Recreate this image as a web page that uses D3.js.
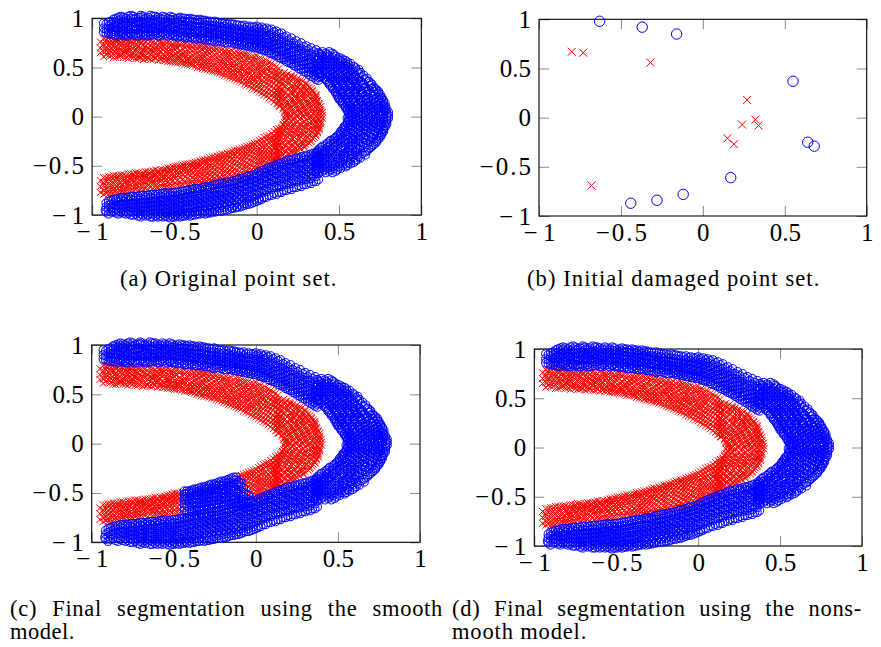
<!DOCTYPE html>
<html>
<head>
<meta charset="utf-8">
<script src="https://cdn.jsdelivr.net/npm/d3@7"></script>
<style>
  html, body { margin: 0; padding: 0; background: #fff; }
  svg { display: block; }
  svg text { font-family: "Liberation Serif", serif; }
</style>
</head>
<body>
<svg id="fig" width="881" height="647"></svg>
<script>
// Tick values shared by both axes of every panel
const tickValues = [-1, -0.5, 0, 0.5, 1];

// Sample coordinates, in hundredths.
// Column blocks are [x, y1, y2, ...]; row blocks are [y, x1, x2, ...].
// Each arm is sampled in two interleaved passes (A and B).

// Inner curve (class 1)
const innerUpperA = [
  [-95,65,70,76],[-93,61,66,71,74,79],[-90,62,65,69,73,77,80],[-87,60,64,68,72,75,79],
  [-84,61,63,67,70,74,78],[-81,60,64,66,71,76,79],[-78,59,62,67,70,73,77],[-75,60,63,65,69,74,78],
  [-72,59,61,66,71,72,76],[-69,58,62,64,68,73,77],[-66,59,60,65,70,74,78],[-63,58,61,66,67,71,76],
  [-60,57,62,64,69,73,77],[-57,57,60,63,68,72,75],[-54,56,59,64,66,70,76],[-51,56,58,62,67,71,74],
  [-48,55,59,61,65,70,75],[-45,54,57,62,64,69,74],[-42,53,56,59,64,68,73],[-39,52,54,58,62,67,71,74],
  [-36,50,54,57,61,65,69,73],[-33,49,52,56,60,63,68,72],[-30,48,51,55,58,63,66,71],[-27,46,50,53,57,61,66,70],
  [-24,45,48,52,56,60,64,69],[-21,43,47,50,55,58,63,68],[-18,41,45,49,52,57,61,65,68],[-15,39,43,47,51,55,59,63,67],
  [-12,37,41,45,49,53,58,62,66],[-9,35,39,43,48,51,56,60,64],[-6,32,36,41,45,49,53,58,63],[-3,29,34,38,42,47,51,56,61],
  [0,27,31,35,40,44,49,54,58,62],[3,24,28,33,37,42,46,51,55,59],[6,21,25,29,34,38,43,48,52,57],
  [9,17,22,26,31,36,40,45,50,54],[12,13,18,23,27,32,37,42,46,51]
];
const innerUpperB = [
  [-91.5,63,67,70,75,78],[-88.5,62,66,69,74,77,80],[-85.5,60,65,68,71,76,78],[-82.5,62,63,68,72,75,79],
  [-79.5,60,65,67,71,74,78],[-76.5,61,64,68,72,75,77],[-73.5,59,63,67,69,73,78],[-70.5,60,64,66,70,75,77],
  [-67.5,59,62,67,69,72,76],[-64.5,58,63,66,68,72,77],[-61.5,59,60,64,68,71,75],[-58.5,58,61,65,67,70,74,76],
  [-55.5,57,60,62,66,70,73,76],[-52.5,56,60,63,65,69,72,75],[-49.5,55,57,61,64,68,71,75],[-46.5,55,58,60,63,67,72,74],
  [-43.5,53,56,60,63,66,70,74],[-40.5,53,55,58,61,65,69,73],[-37.5,51,55,57,60,64,68,72],[-34.5,50,52,56,59,62,67,71,73],
  [-31.5,48,51,55,57,61,65,70,72],[-28.5,47,50,53,56,60,64,68,71],[-25.5,46,48,52,55,59,63,67,70],[-22.5,44,47,50,54,57,62,66,69],
  [-19.5,42,45,49,53,56,60,64,67],[-16.5,40,44,47,50,54,58,62,66],[-13.5,38,42,45,48,52,56,61,65],[-10.5,36,39,44,47,50,55,59,63,66],
  [-7.5,33,37,41,46,49,53,57,62,64],[-4.5,31,35,38,43,46,50,55,59,63],[-1.5,28,32,36,39,44,48,52,57,61],
  [1.5,25,29,33,38,41,45,50,54,59],[4.5,22,26,31,35,39,44,47,52,57],[7.5,19,23,28,32,37,41,46,50,55],
  [10.5,15,20,24,29,34,38,43,47,52],[13.5,11,16,21,26,30,35,40,44,49]
];
const innerTipA = [
  [45,14,17],[42,13,18,21],[39,15,19,22,25],[36,14,18,21,25,28],[33,15,19,23,26,30],
  [30,14,17,22,25,29,32],[27,15,19,23,27,30,34],[24,14,17,21,25,28,32,35],[21,13,16,20,24,28,31,36],
  [18,14,17,21,25,29,33,36],[15,14,18,22,26,30,34,37],[12,15,19,23,27,31,34,38],[9,16,20,24,28,32,36,38],
  [6,17,21,25,29,33,36,39],[3,18,22,26,30,34,37,39],[0,18,21,25,29,33,36,39],[-3,18,22,26,30,34,38],
  [-6,17,20,24,28,32,36,39],[-9,16,19,23,27,31,35,38],[-12,15,18,22,26,30,34,38],[-15,13,17,21,25,29,33,37],
  [-18,12,16,20,24,28,32,36],[-21,12,15,19,23,27,31,35],[-24,13,17,21,25,29,33],[-27,12,16,20,24,28,32],
  [-30,13,17,21,25,29],[-33,12,16,20,24,27],[-36,13,17,21,24],[-39,12,16,20],[-42,13,17],[-45,12]
];
const innerTipB = [
  [43.5,12,16,19],[40.5,14,17,21,23],[37.5,12,16,20,24,27],[34.5,13,16,20,24,27,30],[31.5,12,17,21,24,28,31],
  [28.5,13,16,20,24,27,31,33],[25.5,12,16,21,23,27,30,34],[22.5,15,19,22,26,30,33,36],[19.5,12,15,18,23,26,30,34,36],
  [16.5,13,16,20,23,27,31,35,37],[13.5,13,17,20,24,28,32,36,38],[10.5,14,17,21,25,29,33,36,39],[7.5,16,19,22,26,30,34,37,39],
  [4.5,17,19,23,27,31,35,38,40],[1.5,18,20,24,28,31,35,38,40],[-1.5,17,20,23,27,32,35,37,40],[-4.5,18,21,25,29,33,36,39],
  [-7.5,16,18,22,26,30,33,37,39],[-10.5,15,17,21,25,29,33,36,38],[-13.5,14,16,20,24,28,32,35,38],[-16.5,13,15,19,23,27,30,34,37],
  [-19.5,11,14,18,22,26,30,34,36],[-22.5,12,14,18,22,26,30,34],[-25.5,11,15,19,23,27,30,33],[-28.5,12,14,18,22,26,30],
  [-31.5,11,15,19,23,26,29],[-34.5,12,14,18,22,25],[-37.5,11,15,19,22],[-40.5,12,14,18],[-43.5,11,15]
];
const innerLowerA = [
  [-95,-65,-71,-77],[-93,-62,-67,-70,-75,-79],[-90,-61,-64,-68,-72,-76,-79],[-87,-60,-63,-67,-71,-74,-78],
  [-84,-60,-62,-66,-70,-73,-77],[-81,-59,-63,-65,-69,-74,-77],[-78,-58,-61,-65,-68,-71,-76],[-75,-58,-60,-64,-67,-72,-75],
  [-72,-57,-60,-63,-67,-70,-75],[-69,-57,-59,-62,-66,-71,-74],[-66,-56,-59,-63,-65,-69,-74],[-63,-55,-58,-61,-65,-68,-73],
  [-60,-55,-57,-61,-64,-67,-72],[-57,-54,-56,-60,-63,-68,-72],[-54,-52,-56,-58,-62,-66,-71],[-51,-51,-54,-58,-61,-65,-70],
  [-48,-50,-53,-57,-60,-65,-70],[-45,-49,-52,-55,-59,-64,-69],[-42,-48,-51,-55,-58,-63,-69],[-39,-47,-50,-53,-57,-62,-66,-69],
  [-36,-46,-49,-52,-56,-60,-64,-68],[-33,-44,-47,-51,-55,-59,-63,-67],[-30,-43,-46,-50,-54,-58,-62,-66],[-27,-41,-45,-48,-52,-57,-61,-66],
  [-24,-40,-43,-47,-51,-55,-60,-65],[-21,-38,-42,-46,-50,-54,-59,-64],[-18,-37,-40,-44,-48,-53,-57,-62],[-15,-35,-39,-43,-47,-52,-56,-61],
  [-12,-34,-37,-41,-46,-50,-55,-60],[-9,-32,-36,-40,-44,-49,-53,-58,-61],[-6,-30,-34,-38,-42,-47,-51,-56,-59],[-3,-28,-32,-36,-41,-45,-50,-54,-58],
  [0,-26,-30,-34,-39,-43,-48,-52,-56],[3,-23,-27,-31,-36,-40,-45,-49,-54],[6,-20,-24,-29,-33,-38,-42,-47,-51],
  [9,-17,-21,-26,-30,-35,-39,-44,-49],[12,-13,-17,-22,-27,-31,-36,-41,-46]
];
const innerLowerB = [
  [-91.5,-62,-66,-70,-74,-78],[-88.5,-61,-65,-69,-73,-77,-80],[-85.5,-60,-63,-66,-71,-75,-78],[-82.5,-59,-62,-67,-70,-73,-77],
  [-79.5,-60,-63,-66,-69,-73,-76],[-76.5,-58,-62,-64,-69,-72,-76],[-73.5,-57,-61,-64,-68,-71,-74],[-70.5,-58,-60,-63,-66,-70,-74],
  [-67.5,-56,-60,-62,-66,-69,-73],[-64.5,-56,-58,-62,-64,-68,-72],[-61.5,-54,-58,-60,-64,-67,-71,-73],[-58.5,-54,-57,-59,-63,-66,-70,-72],
  [-55.5,-53,-55,-59,-62,-65,-69,-72],[-52.5,-52,-54,-57,-61,-64,-68,-71],[-49.5,-50,-53,-56,-60,-63,-67,-70],[-46.5,-50,-52,-55,-58,-62,-66,-70],
  [-43.5,-48,-51,-54,-57,-61,-65,-68],[-40.5,-48,-50,-53,-56,-60,-64,-68],[-37.5,-46,-48,-52,-55,-59,-63,-67],[-34.5,-45,-48,-50,-54,-57,-61,-65,-68],
  [-31.5,-44,-46,-49,-53,-56,-60,-64,-67],[-28.5,-42,-45,-48,-51,-55,-59,-63,-66],[-25.5,-41,-43,-46,-50,-54,-58,-62,-65],[-22.5,-39,-42,-45,-49,-53,-57,-61,-64],
  [-19.5,-38,-40,-43,-47,-51,-55,-59,-63],[-16.5,-36,-39,-42,-46,-50,-54,-58,-62],[-13.5,-34,-37,-40,-44,-48,-53,-57,-61],[-10.5,-33,-35,-39,-43,-47,-51,-56,-60],
  [-7.5,-31,-34,-37,-41,-45,-50,-54,-59],[-4.5,-29,-32,-35,-39,-44,-48,-52,-57],[-1.5,-27,-30,-33,-37,-42,-46,-51,-56],
  [1.5,-24,-28,-32,-35,-39,-44,-48,-53],[4.5,-21,-25,-30,-33,-37,-41,-45,-50],[7.5,-19,-22,-26,-31,-35,-39,-43,-48],
  [10.5,-15,-19,-23,-28,-32,-37,-41,-45],[13.5,-12,-16,-20,-25,-30,-34,-38,-43]
];

// Outer curve (class 2)
const outerUpperA = [
  [-93,86,90,95],[-90,84,88,92,96],[-87,83,87,91,95,99],[-84,82,85,90,94,98,101],
  [-81,83,86,89,93,97,101],[-78,82,86,90,93,98,102],[-75,83,87,91,95,99,102],[-72,82,85,89,94,97,101],
  [-69,83,86,91,95,99,102],[-66,82,86,89,93,97,101],[-63,83,87,90,95,98,102],[-60,82,85,89,93,97,101],
  [-57,83,86,91,94,99,102],[-54,82,86,89,93,96,100],[-51,82,85,90,94,98,101],[-48,81,85,88,92,96,100],
  [-45,81,84,89,93,97,100],[-42,80,84,87,91,95,99],[-39,80,83,87,92,96,99],[-36,79,83,86,90,94,98],
  [-33,79,82,86,89,93,98],[-30,78,81,85,89,92,97],[-27,77,81,84,88,92,96],[-24,77,80,84,87,91,96],
  [-21,76,79,83,87,90,95],[-18,75,79,82,86,90,94],[-15,75,78,81,85,89,94],[-12,74,77,81,84,88,93],
  [-9,73,76,80,84,87,92],[-6,72,75,79,83,87,91],[-3,71,74,78,82,86,91],[0,70,73,77,81,85,89,92],
  [3,68,72,76,80,83,87,91],[6,67,70,74,78,82,86,90],[9,64,68,72,76,80,84,89],[12,62,66,70,74,78,82,87],
  [15,59,63,67,71,75,80,85],[18,56,60,64,68,72,77,82],[21,54,58,62,66,70,75,80],[24,51,55,59,63,67,72,77],
  [27,48,52,56,60,64,69,75],[30,45,49,53,57,62,67,72],[33,41,45,50,54,59,64,70],[36,38,42,47,52,57,62,68]
];
const outerUpperB = [
  [-91.5,85,89,94],[-88.5,84,86,90,94,97],[-85.5,83,86,88,92,96,100],[-82.5,84,87,91,95,99,102],
  [-79.5,82,84,88,92,95,100],[-76.5,84,85,89,92,96,100,103],[-73.5,82,84,88,92,96,100],[-70.5,84,88,90,93,97,101,103],
  [-67.5,82,84,88,91,95,100],[-64.5,83,85,88,92,96,99,103],[-61.5,84,87,91,94,99,102],[-58.5,82,84,88,92,96,100],
  [-55.5,84,88,92,95,97,101],[-52.5,83,84,88,91,95,99,102],[-49.5,82,83,87,91,95,99],[-46.5,82,86,90,94,98,101],
  [-43.5,80,82,86,89,93,97,100],[-40.5,81,85,89,93,97,100],[-37.5,79,81,85,88,91,95,99],[-34.5,80,84,87,91,95,99],
  [-31.5,78,80,84,87,91,94,98],[-28.5,78,82,86,90,93,97],[-25.5,76,79,83,86,89,93,97],[-22.5,77,81,85,88,92,95],
  [-19.5,75,78,81,84,88,92,95],[-16.5,76,80,83,87,91,95],[-13.5,74,76,79,83,86,90,94],[-10.5,73,75,78,82,86,89,93],
  [-7.5,72,74,77,81,85,89,93],[-4.5,71,73,76,80,84,88,92],[-1.5,70,72,75,79,83,87,91],[1.5,69,71,74,78,82,86,90],
  [4.5,67,69,72,76,80,85,89],[7.5,65,67,71,75,79,83,88],[10.5,63,65,69,73,77,81,86],[13.5,60,62,66,70,74,79,84],
  [16.5,58,60,63,67,71,76,81],[19.5,55,57,61,65,69,73,78],[22.5,52,54,58,62,66,70,75],[25.5,49,52,55,59,63,67,73],
  [28.5,46,49,53,56,61,65,71],[31.5,43,46,50,54,58,63,68],[34.5,40,43,47,51,55,60,66],[37.5,37,40,44,49,54,59,65]
];
const outerTipA = [
  [66,40,44],[63,39,43,47],[60,38,42,46,50],[57,39,43,47,51,54],[54,38,42,46,50,54,57],
  [51,39,43,47,51,55,59],[48,38,42,46,50,54,58,62],[45,39,43,47,51,55,59,63],[42,40,44,48,52,56,60,65],
  [39,41,45,49,53,57,62,67],[36,43,47,51,55,59,63,68],[33,44,48,52,56,60,65,70],[30,46,50,54,58,62,66,71],
  [27,47,51,55,59,63,68,73],[24,48,52,56,60,64,69,74],[21,49,53,57,61,66,70,75],[18,50,54,58,62,67,71,76],
  [15,52,56,60,64,68,72,77],[12,53,57,61,65,69,73,77],[9,54,58,62,66,70,74,78],[6,55,59,63,67,71,75,78],
  [3,56,60,64,68,72,76,79],[0,56,60,64,68,72,75,79],[-3,56,60,63,67,71,75,79],[-6,55,59,63,67,71,75,78],
  [-9,54,58,62,66,70,74,78],[-12,53,57,61,65,69,73,77],[-15,51,55,59,63,67,72,77],[-18,50,54,58,62,66,71,76],
  [-21,48,52,56,60,65,70,75],[-24,45,49,53,58,62,67,73],[-27,43,47,51,56,60,65,72],[-30,40,44,48,53,58,63,70],
  [-33,38,42,46,51,56,61,68],[-36,37,41,45,50,55,60,66],[-39,38,42,46,51,56,61,66],[-42,37,41,45,50,55,59,63],
  [-45,38,42,46,51,55,60],[-48,37,41,46,50,54,57],[-51,38,42,46,50,54],[-54,37,41,45,49],[-57,38,42,46]
];
const outerTipB = [
  [64.5,38,42,46],[61.5,40,44,48],[58.5,37,41,45,49,52],[55.5,40,44,48,52,55],[52.5,37,41,45,49,53,56],
  [49.5,40,44,48,52,56,60],[46.5,37,41,45,49,53,57,61],[43.5,38,42,46,50,54,58,62],[40.5,39,43,47,51,55,59,64],
  [37.5,42,46,50,54,58,61,66],[34.5,44,48,52,56,60,64,69],[31.5,45,49,53,57,61,64,69],[28.5,46,49,53,57,61,65,70,72],
  [25.5,48,52,56,60,64,67,71,74],[22.5,49,51,55,59,63,67,72,75],[19.5,50,52,56,60,64,68,73,76],[16.5,51,55,59,63,66,70,74,77],
  [13.5,52,55,59,62,67,71,75,78],[10.5,54,56,60,64,68,72,76,78],[7.5,55,57,61,65,69,73,77,79],[4.5,56,58,62,66,70,74,77,80],
  [1.5,57,58,62,66,70,74,77,80],[-1.5,55,58,62,65,69,73,77,80],[-4.5,56,58,61,65,69,73,77,79],[-7.5,55,57,61,64,68,72,76,79],
  [-10.5,53,56,60,63,67,71,75,78],[-13.5,52,54,58,62,66,70,74,77],[-16.5,51,53,57,61,65,69,74,76],[-19.5,49,51,55,59,63,68,73,75],
  [-22.5,47,50,54,58,62,66,71,74],[-25.5,44,47,51,56,60,64,69,73],[-28.5,42,45,49,54,58,62,67,71],[-31.5,39,43,47,52,56,60,65,69],
  [-34.5,37,40,44,49,53,58,63,67],[-37.5,36,40,44,48,53,58,64],[-40.5,37,39,43,48,53,58,62],[-43.5,36,40,44,49,53,57,61],
  [-46.5,37,39,43,48,52,56,59],[-49.5,36,40,44,48,52,55],[-52.5,37,39,43,47,51],[-55.5,36,40,44,48]
];
const outerLowerA = [
  [36,-37,-41,-46,-51,-56,-61,-66],[33,-38,-43,-48,-53,-58,-63,-68],[30,-40,-44,-49,-54,-59,-64,-69],
  [27,-41,-46,-50,-55,-60,-65,-71],[24,-42,-47,-52,-57,-61,-66,-72],[21,-44,-48,-53,-58,-63,-68,-74],
  [18,-45,-50,-55,-60,-64,-69,-75],[15,-47,-51,-56,-61,-66,-71,-77],[12,-49,-53,-58,-63,-67,-72,-79],
  [9,-51,-55,-60,-64,-69,-74,-80],[6,-53,-57,-61,-66,-71,-76,-82],[3,-55,-59,-63,-68,-73,-78,-84],
  [0,-58,-62,-66,-70,-75,-80,-86],[-3,-60,-64,-68,-72,-77,-82,-88],[-6,-61,-65,-69,-74,-79,-84,-89],
  [-9,-63,-67,-71,-76,-81,-86,-91],[-12,-64,-68,-73,-77,-82,-87,-92],[-15,-66,-70,-74,-78,-83,-88,-93],
  [-18,-67,-71,-75,-80,-84,-89,-95],[-21,-68,-72,-76,-81,-85,-90,-96],[-24,-69,-73,-77,-82,-86,-91,-96],
  [-27,-70,-74,-78,-83,-87,-92,-97],[-30,-72,-75,-79,-84,-88,-93,-98],[-33,-72,-76,-80,-85,-89,-94,-98],
  [-36,-73,-77,-81,-86,-90,-95,-99],[-39,-74,-78,-82,-86,-91,-95,-100],[-42,-75,-79,-83,-87,-92,-96,-100],
  [-45,-76,-80,-84,-88,-92,-97,-101],[-48,-77,-81,-85,-89,-93,-97,-101],[-51,-77,-81,-85,-90,-94,-98,-102],
  [-54,-78,-82,-86,-90,-94,-98,-102],[-57,-78,-82,-86,-91,-95,-99,-102],[-60,-79,-83,-87,-91,-95,-99,-102],
  [-63,-79,-83,-87,-91,-95,-99,-102],[-66,-80,-84,-88,-92,-96,-100],[-69,-80,-84,-88,-92,-96,-100],
  [-72,-81,-85,-89,-93,-97,-101],[-75,-81,-85,-89,-93,-97,-100],[-78,-82,-86,-90,-94,-98],
  [-81,-82,-86,-90,-94,-98],[-84,-83,-87,-91,-95,-99],[-87,-84,-88,-92,-96],[-90,-86,-90,-94,-99],[-92,-95]
];
const outerLowerB = [
  [37.5,-36,-39,-44,-49,-53,-58,-64],[34.5,-37,-40,-45,-50,-55,-60,-66],[31.5,-39,-42,-46,-51,-56,-61,-67],
  [28.5,-40,-43,-48,-53,-58,-63,-69],[25.5,-42,-44,-49,-54,-59,-64,-70],[22.5,-43,-46,-51,-55,-60,-65,-72],
  [19.5,-44,-48,-52,-57,-62,-67,-73],[16.5,-46,-49,-54,-58,-63,-69,-75],[13.5,-48,-51,-55,-60,-65,-70,-77],
  [10.5,-50,-53,-57,-62,-66,-72,-78],[7.5,-52,-55,-59,-63,-68,-73,-80],[4.5,-54,-57,-61,-65,-70,-75,-82],
  [1.5,-56,-60,-64,-68,-72,-77,-83,-85],[-1.5,-59,-62,-66,-70,-74,-79,-84,-87],[-4.5,-60,-64,-67,-71,-76,-81,-86,-89],
  [-7.5,-62,-65,-69,-73,-78,-83,-88,-90],[-10.5,-63,-67,-70,-75,-79,-84,-89,-92],[-13.5,-65,-68,-72,-76,-80,-85,-90,-93],
  [-16.5,-66,-69,-73,-77,-82,-86,-91,-94],[-19.5,-67,-70,-74,-78,-83,-87,-92,-95],[-22.5,-68,-72,-75,-79,-84,-88,-93,-96],
  [-25.5,-69,-73,-76,-80,-85,-89,-94,-97],[-28.5,-71,-73,-77,-81,-86,-90,-95,-98],[-31.5,-71,-74,-78,-82,-87,-91,-96,-99],
  [-34.5,-73,-75,-79,-83,-88,-92,-96,-99],[-37.5,-73,-76,-80,-84,-89,-93,-97,-100],[-40.5,-74,-77,-81,-85,-90,-94,-98,-101],
  [-43.5,-75,-78,-82,-86,-90,-94,-99,-101],[-46.5,-76,-79,-83,-87,-91,-95,-99,-102],[-49.5,-77,-80,-83,-87,-92,-96,-100,-102],
  [-52.5,-78,-80,-84,-88,-92,-96,-100,-103],[-55.5,-77,-80,-84,-88,-93,-97,-101],[-58.5,-78,-81,-85,-89,-93,-97,-101],
  [-61.5,-79,-81,-85,-89,-93,-97,-101],[-64.5,-79,-82,-86,-90,-94,-98,-102],[-67.5,-80,-82,-86,-90,-94,-98,-101],
  [-70.5,-80,-83,-87,-91,-95,-99,-102],[-73.5,-81,-83,-87,-91,-95,-99],[-76.5,-81,-84,-88,-92,-96,-100],
  [-79.5,-82,-84,-88,-92,-96,-99],[-82.5,-82,-85,-89,-93,-97],[-85.5,-84,-86,-90,-94,-98],[-88.5,-85,-89,-93,-97],
  [-91.5,-88,-92,-97]
];

// Damaged set: the few samples that survive
const damagedInnerX = [-0.80, -0.73, -0.32, -0.68, 0.27, 0.32, 0.34, 0.24, 0.15, 0.19];
const damagedInnerY = [0.67, 0.66, 0.56, -0.69, 0.18, -0.02, -0.08, -0.07, -0.21, -0.27];
const damagedOuterX = [-0.63, -0.37, -0.16, 0.55, 0.64, 0.68, 0.17, -0.12, -0.28, -0.44];
const damagedOuterY = [0.98, 0.92, 0.85, 0.37, -0.25, -0.29, -0.61, -0.78, -0.84, -0.87];

// Smooth model: the part of the inner lower arm between the left cut and
// the slanted right cut (two end points) ends up in class 2
const smoothCutLeft = -0.44;
const smoothCutRight = [[-0.10, -0.37], [-0.02, -0.57]];

// Sub-figure captions
const captionA = ["(a) Original point set."];
const captionB = ["(b) Initial damaged point set."];
const captionC = ["(c) Final segmentation using the smooth", "model."];
const captionD = ["(d) Final segmentation using the nons-", "mooth model."];

// ---------------------------------------------------------------
const fromCols = cols => cols.flatMap(([x, ...ys]) => ys.map(y => [x / 100, y / 100]));
const fromRows = rows => rows.flatMap(([y, ...xs]) => xs.map(x => [x / 100, y / 100]));

const innerPts = [
  ...fromCols(innerUpperA), ...fromCols(innerUpperB),
  ...fromRows(innerTipA), ...fromRows(innerTipB),
  ...fromCols(innerLowerA), ...fromCols(innerLowerB)
];
const outerPts = [
  ...fromCols(outerUpperA), ...fromCols(outerUpperB),
  ...fromRows(outerTipA), ...fromRows(outerTipB),
  ...fromCols(outerLowerA), ...fromCols(outerLowerB)
];
const damagedInner = damagedInnerX.map((x, i) => [x, damagedInnerY[i]]);
const damagedOuter = damagedOuterX.map((x, i) => [x, damagedOuterY[i]]);

const [[cx1, cy1], [cx2, cy2]] = smoothCutRight;
const rightCutAt = yv => cx1 + (yv - cy1) * (cx2 - cx1) / (cy2 - cy1);
const inSmoothSpan = d => d[1] < 0 && d[0] >= smoothCutLeft && d[0] <= rightCutAt(d[1]);

const RED = "#ff0000", BLUE = "#0000ff";
const FONT = "Liberation Serif";

const panels = [
  { box: [92.1, 18.3, 421.3, 215], r: 4.1, s: 3.4,
    red: innerPts, blue: outerPts },
  { box: [539, 19.3, 866.7, 216], r: 5.2, s: 4.0,
    red: damagedInner, blue: damagedOuter },
  { box: [91.7, 345, 420, 542.3], r: 4.1, s: 3.4,
    red: innerPts.filter(d => !inSmoothSpan(d)),
    blue: [...outerPts, ...innerPts.filter(inSmoothSpan)] },
  { box: [534.3, 349, 862, 546], r: 4.1, s: 3.4,
    red: innerPts, blue: outerPts }
];

const svg = d3.select("#fig");
const fmt = d3.format("~g");
const TICK = 10;

function styleAxis(g) {
  g.attr("font-family", FONT).attr("font-size", 25);
  g.select(".domain").remove();
  g.selectAll(".tick line").attr("stroke", "#8c8c8c").attr("stroke-width", 1);
  g.selectAll(".tick text").attr("fill", "#000");
  g.selectAll(".tick text").filter(d => d < 0)
    .attr("textLength", d => d === -1 ? 32 : 51.4)
    .attr("lengthAdjust", "spacing");
}

panels.forEach(p => {
  const [L, T, R, B] = p.box;
  const x = d3.scaleLinear().domain([-1, 1]).range([L, R]);
  const y = d3.scaleLinear().domain([-1, 1]).range([B, T]);
  const g = svg.append("g");

  g.append("g").attr("transform", `translate(0,${B})`)
    .call(d3.axisBottom(x).tickValues(tickValues).tickFormat(fmt)
      .tickSizeInner(-TICK).tickSizeOuter(0).tickPadding(7)).call(styleAxis);
  g.append("g").attr("transform", `translate(0,${T})`)
    .call(d3.axisTop(x).tickValues(tickValues).tickFormat(() => "")
      .tickSizeInner(-TICK).tickSizeOuter(0)).call(styleAxis);
  g.append("g").attr("transform", `translate(${L},0)`)
    .call(d3.axisLeft(y).tickValues(tickValues).tickFormat(fmt)
      .tickSizeInner(-TICK).tickSizeOuter(0).tickPadding(8)).call(styleAxis);
  g.append("g").attr("transform", `translate(${R},0)`)
    .call(d3.axisRight(y).tickValues(tickValues).tickFormat(() => "")
      .tickSizeInner(-TICK).tickSizeOuter(0)).call(styleAxis);

  g.append("rect")
    .attr("x", L).attr("y", T).attr("width", R - L).attr("height", B - T)
    .attr("fill", "none").attr("stroke", "#000").attr("stroke-width", 1.1);

  // class 1: crosses
  const s = p.s;
  g.append("g").selectAll("path").data(p.red).join("path")
    .attr("transform", d => `translate(${x(d[0])},${y(d[1])})`)
    .attr("d", `M${-s},${-s}L${s},${s}M${-s},${s}L${s},${-s}`)
    .attr("fill", "none").attr("stroke", RED).attr("stroke-width", 1);

  // class 2: open circles
  g.append("g").selectAll("circle").data(p.blue).join("circle")
    .attr("cx", d => x(d[0])).attr("cy", d => y(d[1])).attr("r", p.r)
    .attr("fill", "none").attr("stroke", BLUE).attr("stroke-width", 1);
});

// Captions
const captionLayout = [
  { lines: captionA, x: 120, y: 286, widths: [217] },
  { lines: captionB, x: 527, y: 286, widths: [293] },
  { lines: captionC, x: 10, y: 616, widths: [433, 65], justify: true },
  { lines: captionD, x: 452, y: 616, widths: [410, 135], justify: true }
];
captionLayout.forEach(c => {
  c.lines.forEach((line, i) => {
    const t = svg.append("text")
      .attr("x", c.x).attr("y", c.y + i * 23)
      .attr("font-family", FONT).attr("font-size", 22.5)
      .attr("fill", "#000")
      .style("letter-spacing", "0.7px")
      .text(line);
    const target = c.widths[i];
    if (c.justify && i === 0) {
      const natural = t.node().getComputedTextLength();
      const gaps = (line.match(/ /g) || []).length;
      t.style("word-spacing", `${Math.max(0, (target - natural) / gaps)}px`);
    } else {
      t.attr("textLength", target).attr("lengthAdjust", "spacing");
    }
  });
});
</script>
</body>
</html>
